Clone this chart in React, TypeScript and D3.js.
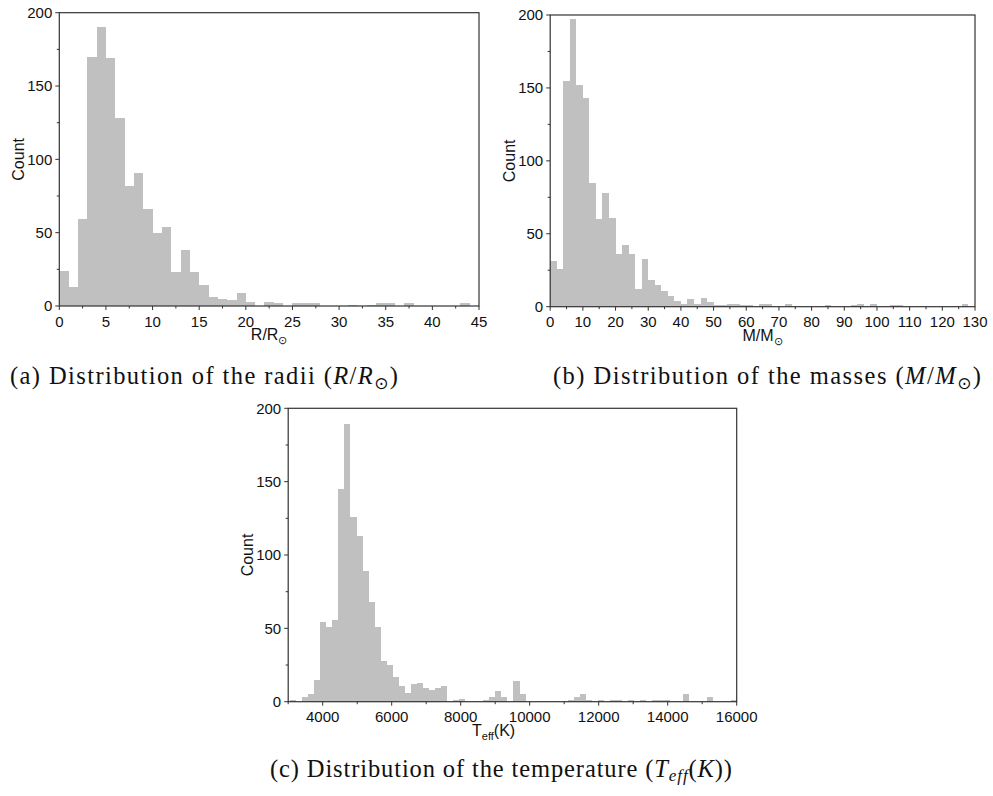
import React from "react";
import * as d3 from "d3";

// ---------- data ----------
// (a) radii, bin width 1 starting at 0
const radiiBinStart = 0;
const radiiBinWidth = 1;
const radiiCounts = [
  24, 13, 59, 170, 190, 169, 128, 82, 91, 66,
  50, 54, 23, 38, 23, 14, 6, 5, 4, 9,
  3, 0, 3, 2, 0, 2, 2, 2, 0, 0,
  0, 1, 0, 1, 2, 2, 0, 2, 0, 0,
  0, 0, 0, 2, 0,
];
const radiiTicks = [0, 5, 10, 15, 20, 25, 30, 35, 40, 45];
const radiiMinor = [2.5, 7.5, 12.5, 17.5, 22.5, 27.5, 32.5, 37.5, 42.5];

// (b) masses, bin width 2 starting at 0
const massBinStart = 0;
const massBinWidth = 2;
const massCounts = [
  31, 26, 155, 197, 152, 143, 85, 60, 78, 61,
  36, 42, 36, 12, 33, 18, 15, 11, 7, 4,
  2, 5, 2, 6, 3, 1, 1, 2, 2, 1,
  1, 0, 2, 2, 0, 0, 2, 0, 0, 0,
  0, 0, 1, 0, 0, 0, 1, 2, 0, 2,
  0, 0, 1, 1, 0, 0, 0, 0, 0, 0,
  0, 0, 0, 2, 0,
];
const massTicks = [0, 10, 20, 30, 40, 50, 60, 70, 80, 90, 100, 110, 120, 130];
const massMinor = [5, 15, 25, 35, 45, 55, 65, 75, 85, 95, 105, 115, 125];

// (c) temperature, bin width 175 starting at 3055
const tempBinStart = 3055;
const tempBinWidth = 175;
const tempCounts = [
  1, 0, 3, 5, 15, 54, 51, 56, 145, 189,
  126, 113, 89, 68, 51, 28, 25, 17, 11, 6,
  12, 13, 9, 8, 9, 11, 0, 1, 2, 0,
  0, 0, 1, 3, 7, 3, 0, 14, 5, 0,
  0, 0, 0, 0, 0, 0, 1, 3, 5, 1,
  0, 1, 0, 1, 1, 0, 1, 0, 1, 0,
  1, 1, 1, 0, 0, 5, 0, 0, 0, 3,
  0, 0, 0, 1,
];
const tempTicks = [4000, 6000, 8000, 10000, 12000, 14000, 16000];
const tempMinor = [3000, 5000, 7000, 9000, 11000, 13000, 15000];

const countTicks = [0, 50, 100, 150, 200];
const countMinor = [25, 75, 125, 175];

// ---------- styling ----------
const SANS = "'Liberation Sans', Arial, sans-serif";
const SERIF = "'Liberation Serif', 'Times New Roman', serif";
const BAR = "#c0c0c0";
const AXIS = "#333333";

type HistProps = {
  counts: number[];
  binStart: number;
  binWidth: number;
  xDomain: [number, number];
  xTicks: number[];
  xMinor: number[];
  left: number;
  right: number;
  top: number;
  bottom: number;
  xTitle: React.ReactNode;
};

function Histogram(p: HistProps) {
  const x = d3.scaleLinear().domain(p.xDomain).range([p.left, p.right]);
  const y = d3.scaleLinear().domain([0, 200]).range([p.bottom, p.top]);
  const bins = p.counts.map((c, i) => {
    const x0 = p.binStart + i * p.binWidth;
    const x1 = Math.min(x0 + p.binWidth, p.xDomain[1]);
    return { x0, x1, c };
  });
  const fmt = d3.format("d");
  return (
    <g>
      {bins
        .filter((b) => b.c > 0)
        .map((b, i) => (
          <rect
            key={i}
            x={x(b.x0)}
            width={x(b.x1) - x(b.x0)}
            y={y(b.c)}
            height={y(0) - y(b.c)}
            fill={BAR}
            shapeRendering="crispEdges"
          />
        ))}
      <rect
        x={p.left}
        y={p.top}
        width={p.right - p.left}
        height={p.bottom - p.top}
        fill="none"
        stroke={AXIS}
        strokeWidth={1.2}
      />
      {countTicks.map((t) => (
        <g key={"y" + t}>
          <line x1={p.left - 4} x2={p.left} y1={y(t)} y2={y(t)} stroke={AXIS} strokeWidth={1} />
          <text
            x={p.left - 7}
            y={y(t)}
            dy="0.36em"
            textAnchor="end"
            fontFamily={SANS}
            fontSize={15}
            fill="#111"
          >
            {fmt(t)}
          </text>
        </g>
      ))}
      {countMinor.map((t) => (
        <line key={"ym" + t} x1={p.left - 2.5} x2={p.left} y1={y(t)} y2={y(t)} stroke={AXIS} strokeWidth={1} />
      ))}
      {p.xTicks.map((t) => (
        <g key={"x" + t}>
          <line x1={x(t)} x2={x(t)} y1={p.bottom} y2={p.bottom + 4} stroke={AXIS} strokeWidth={1} />
          <text
            x={x(t)}
            y={p.bottom + 20.5}
            textAnchor="middle"
            fontFamily={SANS}
            fontSize={15}
            fill="#111"
          >
            {fmt(t)}
          </text>
        </g>
      ))}
      {p.xMinor.map((t) => (
        <line key={"xm" + t} x1={x(t)} x2={x(t)} y1={p.bottom} y2={p.bottom + 2.5} stroke={AXIS} strokeWidth={1} />
      ))}
      <text
        transform={`translate(${p.left - 41},${(p.top + p.bottom) / 2}) rotate(-90)`}
        dy="0.36em"
        textAnchor="middle"
        fontFamily={SANS}
        fontSize={16}
        fill="#111"
      >
        Count
      </text>
      {p.xTitle}
    </g>
  );
}

export default function App() {
  const aL = 59.3, aR = 479, aT = 12.7, aB = 306;
  const bL = 550.2, bR = 975, bT = 15, bB = 306.7;
  const cL = 288.2, cR = 736.7, cT = 408.3, cB = 701.7;
  return (
    <svg
      width={993}
      height={796}
      style={{ position: "absolute", left: 0, top: 0, background: "#fff" }}
    >
      <rect width={993} height={796} fill="#fff" />
      <Histogram
        counts={radiiCounts}
        binStart={radiiBinStart}
        binWidth={radiiBinWidth}
        xDomain={[0, 45]}
        xTicks={radiiTicks}
        xMinor={radiiMinor}
        left={aL}
        right={aR}
        top={aT}
        bottom={aB}
        xTitle={
          <text x={(aL + aR) / 2} y={aB + 34} textAnchor="middle" fontFamily={SANS} fontSize={16} fill="#111">
            R/R<tspan fontSize={11} dy={4}>⊙</tspan>
          </text>
        }
      />
      <Histogram
        counts={massCounts}
        binStart={massBinStart}
        binWidth={massBinWidth}
        xDomain={[0, 130]}
        xTicks={massTicks}
        xMinor={massMinor}
        left={bL}
        right={bR}
        top={bT}
        bottom={bB}
        xTitle={
          <text x={(bL + bR) / 2} y={bB + 34} textAnchor="middle" fontFamily={SANS} fontSize={16} fill="#111">
            M/M<tspan fontSize={11} dy={4}>⊙</tspan>
          </text>
        }
      />
      <Histogram
        counts={tempCounts}
        binStart={tempBinStart}
        binWidth={tempBinWidth}
        xDomain={[3000, 16000]}
        xTicks={tempTicks}
        xMinor={tempMinor}
        left={cL}
        right={cR}
        top={cT}
        bottom={cB}
        xTitle={
          <text x={472} y={cB + 34} textAnchor="start" fontFamily={SANS} fontSize={16} fill="#111">
            T<tspan fontSize={11} dy={4}>eff</tspan>
            <tspan dy={-4}>(K)</tspan>
          </text>
        }
      />
      {/* captions */}
      <text x={10} y={384} fontFamily={SERIF} fontSize={24.5} fill="#111" textLength={388} lengthAdjust="spacing">
        (a) Distribution of the radii (<tspan fontStyle="italic">R</tspan>/<tspan fontStyle="italic">R</tspan>
        <tspan fontSize={17} dy={5} fontFamily="'DejaVu Sans', sans-serif">⊙</tspan>
        <tspan dy={-5}>)</tspan>
      </text>
      <text x={553} y={384} fontFamily={SERIF} fontSize={24.5} fill="#111" textLength={428} lengthAdjust="spacing">
        (b) Distribution of the masses (<tspan fontStyle="italic">M</tspan>/<tspan fontStyle="italic">M</tspan>
        <tspan fontSize={17} dy={5} fontFamily="'DejaVu Sans', sans-serif">⊙</tspan>
        <tspan dy={-5}>)</tspan>
      </text>
      <text x={270} y={777} fontFamily={SERIF} fontSize={24.5} fill="#111" textLength={462} lengthAdjust="spacing">
        (c) Distribution of the temperature (<tspan fontStyle="italic">T</tspan>
        <tspan fontStyle="italic" fontSize={17} dy={4}>eff</tspan>
        <tspan dy={-4}>(</tspan>
        <tspan fontStyle="italic">K</tspan>))
      </text>
    </svg>
  );
}
